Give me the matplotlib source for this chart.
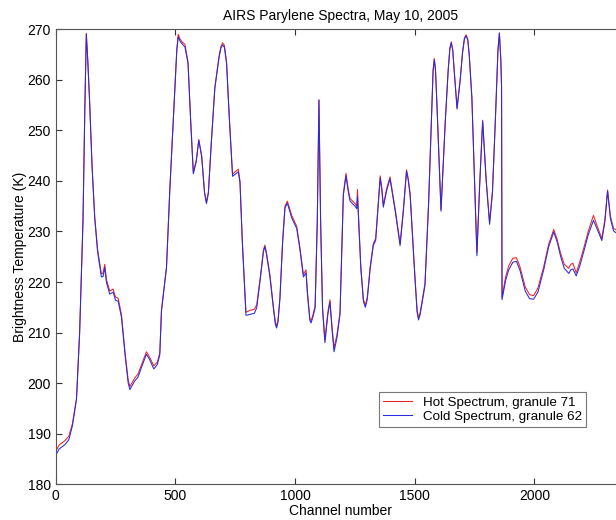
# AIRS parylene spectra, hot vs cold granule
import numpy as np
import matplotlib.pyplot as plt

plt.rcParams['font.family'] = ['Liberation Sans', 'DejaVu Sans']

# channel positions (10 per row, rows line up with hot / cold)
chan = [0, 15, 38, 55, 70, 87, 100, 114, 122, 128,
        134, 142, 152, 163, 175, 191, 198, 205, 212, 226,
        240, 250, 261, 275, 290, 303, 310, 318, 330, 344,
        360, 379, 392, 410, 425, 435, 442, 463, 477, 498,
        506, 512, 520, 530, 540, 553, 563, 575, 587, 598,
        610, 622, 630, 638, 650, 665, 682, 690, 697, 705,
        714, 725, 739, 750, 763, 770, 780, 795, 812, 830,
        840, 855, 868, 874, 880, 895, 910, 918, 923, 929,
        937, 948, 958, 968, 986, 1007, 1020, 1035, 1046, 1052,
        1062, 1067, 1075, 1084, 1093, 1100, 1107, 1115, 1125, 1137,
        1146, 1155, 1163, 1175, 1188, 1202, 1213, 1222, 1230, 1251,
        1258, 1261, 1265, 1275, 1286, 1294, 1302, 1314, 1327, 1337,
        1356, 1363, 1369, 1383, 1397, 1420, 1439, 1452, 1466, 1473,
        1481, 1500, 1510, 1516, 1523, 1543, 1558, 1572, 1577, 1582,
        1587, 1593, 1610, 1628, 1640, 1647, 1653, 1659, 1665, 1677,
        1690, 1700, 1708, 1715, 1722, 1728, 1739, 1760, 1771, 1784,
        1799, 1813, 1825, 1837, 1848, 1854, 1860, 1863, 1865, 1880,
        1893, 1910, 1925, 1940, 1962, 1980, 1997, 2015, 2039, 2060,
        2081, 2095, 2109, 2125, 2144, 2152, 2161, 2175, 2190, 2207,
        2225, 2247, 2263, 2282, 2295, 2306, 2318, 2331, 2345, 2378]

hot = [186.5, 187.8, 188.6, 189.5, 192.0, 197.0, 210.0, 232.0, 255.0, 269.2,
       264.0, 255.5, 243.0, 233.0, 226.5, 221.6, 221.8, 223.5, 220.5, 218.2,
       218.6, 217.0, 216.8, 213.5, 206.0, 200.6, 199.3, 200.0, 201.0, 201.8,
       203.8, 206.2, 205.2, 203.4, 204.2, 206.0, 214.5, 223.0, 238.5, 258.5,
       266.0, 269.0, 268.0, 267.4, 267.0, 263.5, 253.0, 241.8, 244.0, 248.2,
       245.0, 237.8, 235.8, 237.8, 247.5, 258.5, 264.5, 266.5, 267.3, 266.8,
       263.5, 253.0, 241.3, 241.8, 242.3, 240.0, 228.0, 214.0, 214.4, 214.6,
       215.5, 221.0, 226.3, 227.3, 226.0, 221.5, 215.0, 212.0, 211.3, 212.5,
       217.0, 228.0, 235.0, 236.0, 233.2, 231.0, 227.0, 221.5, 222.4, 218.0,
       212.8, 212.3, 213.5, 215.3, 232.0, 256.0, 232.0, 215.0, 208.5, 214.0,
       216.5, 211.0, 207.0, 209.5, 214.0, 237.5, 241.5, 238.5, 236.5, 235.5,
       235.0, 238.3, 233.5, 223.0, 216.5, 215.4, 217.0, 223.0, 227.6, 228.6,
       241.0, 238.5, 235.2, 238.5, 240.8, 234.0, 227.6, 234.0, 242.2, 240.5,
       237.5, 222.0, 214.5, 212.9, 214.0, 219.7, 235.5, 255.3, 262.0, 264.2,
       262.0, 255.3, 234.3, 252.0, 262.0, 266.3, 267.5, 266.0, 262.0, 254.5,
       260.0, 265.5, 268.3, 268.9, 268.0, 265.0, 256.6, 225.8, 238.8, 252.0,
       240.1, 231.8, 238.0, 252.0, 266.0, 269.3, 264.0, 258.6, 217.0, 221.0,
       223.2, 224.7, 224.8, 223.0, 219.0, 217.5, 217.3, 218.8, 223.0, 227.5,
       230.4, 228.5, 225.8, 223.5, 222.7, 223.5, 223.7, 221.8, 224.0, 226.8,
       230.0, 233.2, 231.0, 228.6, 232.5, 238.2, 233.0, 230.6, 230.2, 229.5]

cold = [185.7, 187.0, 187.8, 188.8, 191.6, 196.8, 209.8, 231.8, 254.8, 269.0,
        263.8, 255.3, 242.8, 232.7, 226.0, 221.0, 221.1, 222.9, 219.9, 217.6,
        218.0, 216.4, 216.2, 213.0, 205.5, 200.0, 198.7, 199.4, 200.4, 201.2,
        203.3, 205.7, 204.7, 202.8, 203.7, 205.6, 214.2, 222.8, 238.3, 258.3,
        265.7, 268.5, 267.6, 267.0, 266.5, 263.2, 252.8, 241.4, 243.7, 248.0,
        244.8, 237.5, 235.5, 237.5, 247.3, 258.3, 264.2, 266.2, 266.9, 266.4,
        263.2, 252.8, 240.9, 241.3, 241.8, 239.7, 227.7, 213.4, 213.6, 213.8,
        214.9, 220.6, 226.0, 227.0, 225.7, 221.1, 214.6, 211.6, 210.9, 212.1,
        216.7, 227.6, 234.6, 235.6, 232.7, 230.6, 226.6, 221.0, 221.8, 217.5,
        212.4, 211.9, 213.1, 214.9, 231.8, 256.0, 231.8, 214.6, 208.0, 213.5,
        216.0, 210.4, 206.2, 208.9, 213.6, 237.2, 241.0, 238.0, 236.0, 235.0,
        234.5, 237.0, 233.0, 222.6, 216.1, 215.0, 216.6, 222.6, 227.2, 228.2,
        240.6, 238.0, 234.8, 238.1, 240.4, 233.6, 227.2, 233.6, 241.9, 240.2,
        237.1, 221.6, 214.1, 212.5, 213.6, 219.3, 235.2, 255.1, 261.8, 264.0,
        261.8, 255.0, 234.0, 251.8, 261.8, 266.1, 267.3, 265.8, 261.8, 254.2,
        259.8, 265.3, 268.1, 268.7, 267.8, 264.8, 256.3, 225.2, 238.5, 251.8,
        239.8, 231.4, 237.7, 251.8, 265.8, 269.2, 263.8, 258.4, 216.5, 220.3,
        222.4, 223.9, 224.1, 222.3, 218.2, 216.7, 216.6, 218.0, 222.4, 227.0,
        229.9, 228.0, 225.2, 222.7, 221.7, 222.4, 222.6, 221.2, 223.2, 226.1,
        229.3, 232.2, 230.4, 228.2, 232.0, 238.0, 232.5, 230.1, 229.6, 229.0]

fig = plt.figure(figsize=(6.16, 5.2), dpi=100)
ax = fig.add_axes([0.0904, 0.0688, 0.9239, 0.875])

ax.plot(chan, hot, color='#ee2222', lw=0.75, label='Hot Spectrum, granule 71')
ax.plot(chan, cold, color='#2a2ae0', lw=0.75, label='Cold Spectrum, granule 62')

ax.set_xlim(0, 2378)
ax.set_ylim(180, 270)
ax.set_xticks([0, 500, 1000, 1500, 2000])
ax.set_yticks(np.arange(180, 271, 10))
ax.tick_params(direction='in', top=True, right=True, length=4, width=0.8, labelsize=10, colors='#333333')
ax.tick_params(labelcolor='black')
for s in ax.spines.values():
    s.set_color('#555555')
    s.set_linewidth(0.8)

ax.set_title('AIRS Parylene Spectra, May 10, 2005', fontsize=10, pad=7)
ax.set_xlabel('Channel number', fontsize=10, labelpad=1)
ax.set_ylabel('Brightness Temperature (K)', fontsize=10, labelpad=0)

leg = ax.legend(loc='lower left', bbox_to_anchor=(0.568, 0.126), borderaxespad=0, fancybox=False,
                fontsize=9.6, handlelength=2.2, borderpad=0.3, labelspacing=0.15, handletextpad=0.8)
leg.get_frame().set_edgecolor('#555555')
leg.get_frame().set_linewidth(0.8)

fig.savefig('out.png', dpi=100)
